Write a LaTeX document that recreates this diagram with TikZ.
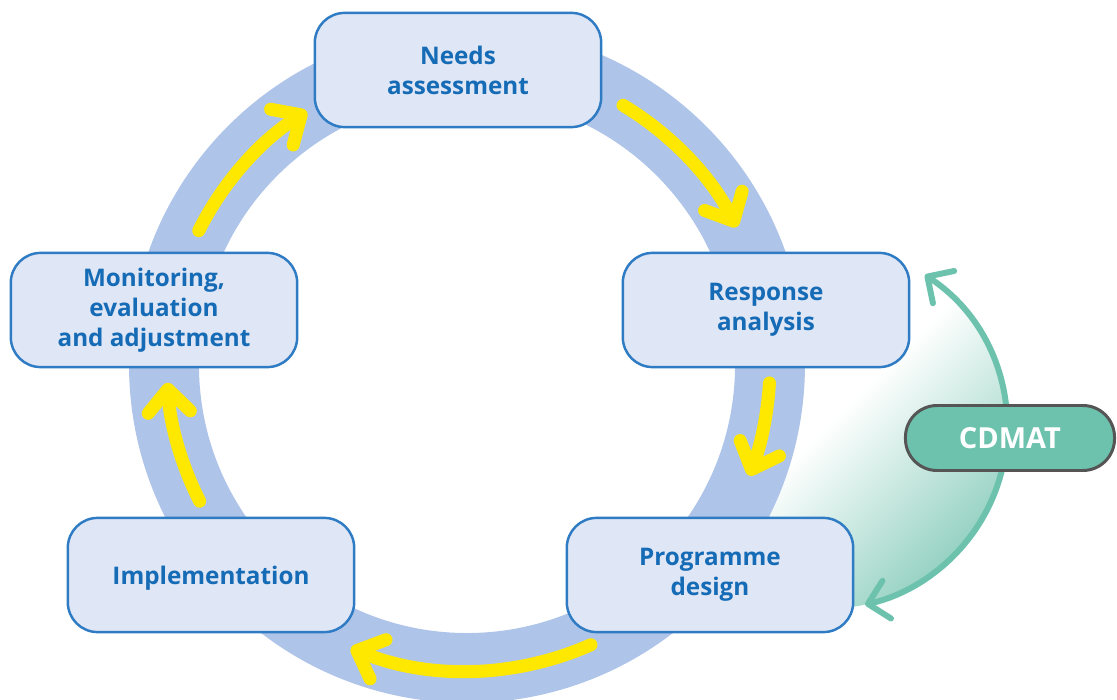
\documentclass[tikz,border=0pt]{standalone}
\usepackage{fontspec}
\setsansfont{Open Sans}
\usetikzlibrary{arrows.meta}

\definecolor{ringblue}{RGB}{174,196,232}
\definecolor{boxfill}{RGB}{223,230,245}
\definecolor{boxline}{RGB}{47,124,196}
\definecolor{boxtext}{RGB}{21,107,181}
\definecolor{arrowyellow}{RGB}{255,232,0}
\definecolor{cdmatgreen}{RGB}{108,194,173}
\definecolor{cdmatshade}{RGB}{150,210,195}
\definecolor{cdmatedge}{RGB}{85,85,85}

\begin{document}
\begin{tikzpicture}[x=0.02cm, y=0.02cm,
    stage/.style={draw=boxline, line width=1.4pt, fill=boxfill, rounded corners=17pt,
        minimum width=163pt, minimum height=65pt, inner sep=0pt, align=center,
        text=boxtext, font=\sffamily\bfseries\fontsize{13.8}{17}\selectfont,
        execute at begin node={\rule{0pt}{14pt}}},
    cdmatbox/.style={draw=cdmatedge, line width=1.7pt, fill=cdmatgreen, rounded corners=18pt,
        minimum width=119pt, minimum height=37pt, inner sep=0pt,
        text=white, font=\sffamily\bfseries\fontsize{16.5}{20}\selectfont},
    cyclearrow/.style={arrowyellow, line width=7.4pt, line cap=round,
        -{Straight Barb[round, length=13pt, width=24pt]}},
    feedback/.style={cdmatgreen, line width=3.4pt, line cap=round,
        {Straight Barb[round, length=11pt, width=22pt]}-{Straight Barb[round, length=11pt, width=22pt]}}
]
    \useasboundingbox (-467,-335) rectangle (650,365);
    \coordinate (hub) at (0,0);
    \coordinate (loop) at (358,-62);

    % Shaded area behind the CDMAT loop
    \shade[top color=white, bottom color=cdmatshade, middle color=white, shading angle=45]
        (loop) circle[radius=182];
    \fill[white] (hub) circle[radius=268];

    % Draw the ring
    \draw[ringblue, line width=39.8pt] (hub) circle[radius=303];

    % Yellow arrows round the cycle
    \draw[cyclearrow] ([shift={(153.4:300)}]hub) arc[start angle=153.4, end angle=122.3, radius=300];
    \draw[cyclearrow] ([shift={(59:303)}]hub) arc[start angle=59, end angle=27.1, radius=303];
    \draw[cyclearrow] ([shift={(-3.4:303)}]hub) arc[start angle=-3.4, end angle=-21.4, radius=303];
    \draw[cyclearrow] ([shift={(-66.1:306)}]hub) arc[start angle=-66.1, end angle=-112.3, radius=306];
    \draw[cyclearrow] ([shift={(207:300)}]hub) arc[start angle=207, end angle=183.4, radius=300];

    % Stages
    \node[stage] (needs) at (-9,295) {Needs\\assessment};
    \node[stage] (response) at (299,55) {Response\\analysis};
    \node[stage] (design) at (243,-210) {Programme\\design};
    \node[stage] (implement) at (-256,-210) {Implementation};
    \node[stage] (monitor) at (-313,55) {Monitoring,\\evaluation\\and adjustment};

    % CDMAT loop
    \draw[feedback] ([shift={(56.7:182)}]loop) arc[start angle=56.7, end angle=-77.3, radius=182];
    \node[cdmatbox] (cdmat) at (543,-73) {CDMAT};
\end{tikzpicture}
\end{document}
